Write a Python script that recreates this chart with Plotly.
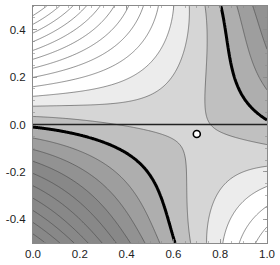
import numpy as np
import plotly.graph_objects as go

# ---- contour traces (x, y) with their level ----
thick_lo_x = [0.0, 0.071, 0.24, 0.45, 0.492, 0.547, 0.576, 0.587]
thick_lo_y = [0.0, -0.025, -0.07, -0.151, -0.193, -0.305, -0.431, -0.5]
thick_hi_x = [0.811, 0.821, 0.842, 0.884, 0.94, 1.0]
thick_hi_y = [0.5, 0.311, 0.199, 0.115, 0.059, 0.0]
lvl1_lo_x = [0.0, 0.17, 0.35, 0.492, 0.618, 0.66, 0.671, 0.668, 0.657]
lvl1_lo_y = [0.045, 0.022, 0.0, -0.025, -0.06, -0.095, -0.151, -0.3, -0.494]
lvl1_hi_x = [0.751, 0.735, 0.723, 0.72, 0.74, 0.772, 0.884, 0.996]
lvl1_hi_y = [0.5, 0.3, 0.17, 0.05, 0.0, -0.011, -0.039, -0.074]
lvl2_tl_x = [0.0, 0.2, 0.45, 0.52, 0.59, 0.646, 0.667, 0.674]
lvl2_tl_y = [0.08, 0.088, 0.105, 0.115, 0.157, 0.241, 0.381, 0.5]
lvl2_br_x = [0.996, 0.912, 0.842, 0.793, 0.772, 0.772]
lvl2_br_y = [-0.172, -0.193, -0.235, -0.319, -0.431, -0.494]
lvlm1_x = [0.87, 0.912, 1.0]
lvlm1_y = [0.5, 0.311, 0.185]
lvlm2_x = [0.933, 0.98, 1.0]
lvlm2_y = [0.5, 0.437, 0.367]

# edge crossings of the contour lines
left_y = [-0.473, -0.424, -0.375, -0.326, -0.27, -0.21, -0.15, -0.1, -0.05, 0.0,
          0.045, 0.08, 0.115, 0.15, 0.185, 0.227, 0.269, 0.311, 0.346, 0.381, 0.426, 0.466, 0.5]
left_lv = [-9, -8, -7, -6, -5, -4, -3, -2, -1, 0, 1, 2, 3, 4, 5, 6, 7, 8, 9, 10, 11, 12, 13]
top_x = [0.008, 0.071, 0.12, 0.176, 0.232, 0.289, 0.345, 0.394, 0.436, 0.513, 0.588,
         0.672, 0.751, 0.811, 0.87, 0.933, 0.98]
top_lv = [13, 12, 11, 10, 9, 8, 7, 6, 5, 4, 3, 2, 1, 0, -1, -2, -3]
bot_x = [0.071, 0.126, 0.189, 0.252, 0.311, 0.374, 0.429, 0.483, 0.534, 0.587,
         0.657, 0.772, 0.849, 0.91, 0.96, 1.0]
bot_lv = [-9, -8, -7, -6, -5, -4, -3, -2, -1, 0, 1, 2, 3, 4, 5, 6]
right_y = [0.47, 0.367, 0.185, 0.0, -0.074, -0.172, -0.26, -0.34, -0.42, -0.5]
right_lv = [-3, -2, -1, 0, 1, 2, 3, 4, 5, 6]

# saddle point (marked with the open circle)
saddle_x = [0.70]
saddle_y = [-0.04]
saddle_val = 1.45

# contour levels and band shading
lev_start, lev_end, lev_step = -12, 14, 1
band_lower = [-4, -3, -2, -1, 0, 1, 2, 3]
band_gray = [136, 146, 158, 174, 192, 214, 236, 255]

x_ticks = [0.0, 0.2, 0.4, 0.6, 0.8, 1.0]
x_labels = ["0.0", "0.2", "0.4", "0.6", "0.8", "1.0"]
y_ticks = [-0.4, -0.2, 0.0, 0.2, 0.4]
y_labels = ["-0.4", "-0.2", "0.0", "0.2", "0.4"]
hline_y = 0.0

# ---- surface through the read contour points (least squares) ----
DEG = 4
def basis(x, y):
    return [x**i * y**j for i in range(DEG + 1) for j in range(DEG + 1)]
def basis_dx(x, y):
    return [(i * x**(i - 1) if i > 0 else 0.0) * y**j for i in range(DEG + 1) for j in range(DEG + 1)]
def basis_dy(x, y):
    return [x**i * (j * y**(j - 1) if j > 0 else 0.0) for i in range(DEG + 1) for j in range(DEG + 1)]

A, b, w = [], [], []
def add(xs, ys, lv, wt=1.0):
    for xx, yy in zip(xs, ys):
        A.append(basis(xx, yy)); b.append(lv); w.append(wt)

add(thick_lo_x, thick_lo_y, 0, 2.0)
add(thick_hi_x, thick_hi_y, 0, 2.0)
add(lvl1_lo_x, lvl1_lo_y, 1, 1.5)
add(lvl1_hi_x, lvl1_hi_y, 1, 1.5)
add(lvl2_tl_x, lvl2_tl_y, 2)
add(lvl2_br_x, lvl2_br_y, 2)
add(lvlm1_x, lvlm1_y, -1)
add(lvlm2_x, lvlm2_y, -2)
for yy, lv in zip(left_y, left_lv):
    A.append(basis(0.0, yy)); b.append(lv); w.append(1.0)
for xx, lv in zip(top_x, top_lv):
    A.append(basis(xx, 0.5)); b.append(lv); w.append(1.0)
for xx, lv in zip(bot_x, bot_lv):
    A.append(basis(xx, -0.5)); b.append(lv); w.append(1.0)
for yy, lv in zip(right_y, right_lv):
    A.append(basis(1.0, yy)); b.append(lv); w.append(1.0)
for sx, sy in zip(saddle_x, saddle_y):
    A.append(basis(sx, sy)); b.append(saddle_val); w.append(2.0)
    A.append(basis_dx(sx, sy)); b.append(0.0); w.append(1.0)
    A.append(basis_dy(sx, sy)); b.append(0.0); w.append(1.0)

A = np.array(A) * np.array(w)[:, None]
b = np.array(b) * np.array(w)
lam = 1e-3
n = A.shape[1]
A = np.vstack([A, np.sqrt(lam) * np.eye(n)])
b = np.concatenate([b, np.zeros(n)])
coef, *_ = np.linalg.lstsq(A, b, rcond=None)

gx = np.linspace(0, 1, 241)
gy = np.linspace(-0.5, 0.5, 241)
X, Y = np.meshgrid(gx, gy)
Z = np.zeros_like(X)
k = 0
for i in range(DEG + 1):
    for j in range(DEG + 1):
        Z += coef[k] * X**i * Y**j
        k += 1

# ---- colour scale: one grey per band ----
def gray_of(L):
    if L <= band_lower[0]:
        return band_gray[0]
    if L >= band_lower[-1]:
        return band_gray[-1]
    return band_gray[band_lower.index(L)]

nc = int((lev_end - lev_start) / lev_step) + 1
colorscale = []
for L in range(lev_start - 1, lev_end + 1):
    g = gray_of(L)
    colorscale.append([(L - lev_start + 1) / nc, f"rgb({g},{g},{g})"])

fig = go.Figure()
fig.add_trace(go.Contour(
    x=gx, y=gy, z=Z,
    contours=dict(start=lev_start, end=lev_end, size=lev_step, coloring="fill", showlines=True),
    colorscale=colorscale, showscale=False,
    line=dict(color="rgba(70,70,70,0.85)", width=0.7),
    hoverinfo="skip",
))
fig.add_trace(go.Contour(
    x=gx, y=gy, z=Z,
    contours=dict(start=0, end=0, size=1, coloring="none"),
    showscale=False,
    line=dict(color="black", width=3),
    hoverinfo="skip",
))
fig.add_hline(y=hline_y, line=dict(color="#222222", width=1.3))
fig.add_trace(go.Scatter(
    x=saddle_x, y=saddle_y, mode="markers",
    marker=dict(size=7, color="white", line=dict(color="black", width=1.6)),
    hoverinfo="skip",
))

axis_common = dict(
    ticks="inside", ticklen=4, tickcolor="#8a8a8a", tickwidth=0.8,
    showline=True, linecolor="#8a8a8a", linewidth=1, mirror="ticks",
    showgrid=False, zeroline=False,
    tickfont=dict(family="Liberation Sans, Arial, sans-serif", size=11.5, color="#222222"),
    minor=dict(dtick=0.05, ticks="inside", ticklen=2, tickcolor="#8a8a8a", tickwidth=0.6),
)
fig.update_xaxes(range=[0, 1], tickvals=x_ticks, ticktext=x_labels, **axis_common)
fig.update_yaxes(range=[-0.5, 0.5], tickvals=y_ticks, ticktext=y_labels,
                 ticklabelstandoff=4, **axis_common)
fig.update_layout(
    width=280, height=265,
    margin=dict(l=33, r=9, t=5, b=22),
    plot_bgcolor="white", paper_bgcolor="white",
    showlegend=False,
)
fig.write_html("out.html", config={"displayModeBar": False, "staticPlot": True},
               post_script="document.body.style.margin='0';")
